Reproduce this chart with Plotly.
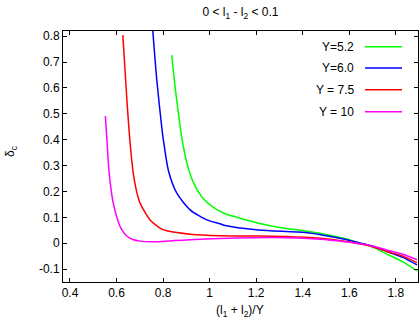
import plotly.graph_objects as go

W, H = 419, 327
ML, MR, MT, MB = 63, 1, 31, 45

series_names = ["Y=5.2", "Y=6.0", "Y = 7.5", "Y = 10"]
series_colors = ["#00ff00", "#0000ff", "#ff0000", "#ff00ff"]

x_y52 = [0.837, 0.852, 0.866, 0.880, 0.902, 0.930, 0.973, 1.031, 1.067, 1.102, 1.21, 1.30, 1.411, 1.50, 1.58, 1.619, 1.66, 1.70, 1.761, 1.83, 1.891]
y_y52 = [0.727, 0.60, 0.50, 0.41, 0.31, 0.235, 0.172, 0.13, 0.114, 0.104, 0.077, 0.061, 0.047, 0.034, 0.018, 0.008, -0.003, -0.015, -0.042, -0.072, -0.107]

x_y60 = [0.754, 0.773, 0.794, 0.801, 0.823, 0.859, 0.916, 0.988, 1.045, 1.067, 1.21, 1.411, 1.50, 1.58, 1.619, 1.66, 1.70, 1.761, 1.83, 1.891]
y_y60 = [0.84, 0.63, 0.45, 0.40, 0.28, 0.193, 0.129, 0.09, 0.075, 0.068, 0.051, 0.041, 0.029, 0.015, 0.007, -0.002, -0.012, -0.032, -0.055, -0.084]

x_y75 = [0.627, 0.644, 0.658, 0.672, 0.686, 0.701, 0.744, 0.794, 0.816, 0.916, 1.045, 1.188, 1.331, 1.475, 1.58, 1.618, 1.66, 1.70, 1.761, 1.83, 1.891]
y_y75 = [0.804, 0.56, 0.39, 0.27, 0.20, 0.155, 0.09, 0.054, 0.048, 0.035, 0.029, 0.028, 0.026, 0.019, 0.008, 0.002, -0.005, -0.014, -0.032, -0.05, -0.075]

x_y10 = [0.552, 0.558, 0.565, 0.572, 0.586, 0.605, 0.621, 0.645, 0.67, 0.701, 0.773, 0.85, 0.916, 1.045, 1.188, 1.332, 1.475, 1.58, 1.618, 1.66, 1.70, 1.761, 1.83, 1.891]
y_y10 = [0.491, 0.41, 0.309, 0.24, 0.154, 0.09, 0.054, 0.027, 0.014, 0.008, 0.006, 0.01, 0.013, 0.018, 0.021, 0.021, 0.015, 0.006, 0.002, -0.004, -0.011, -0.026, -0.043, -0.064]

xs = [x_y52, x_y60, x_y75, x_y10]
ys = [y_y52, y_y60, y_y75, y_y10]

x_tickvals = [0.4, 0.6, 0.8, 1.0, 1.2, 1.4, 1.6, 1.8]
x_ticktext = ["0.4", "0.6", "0.8", "1", "1.2", "1.4", "1.6", "1.8"]
y_tickvals = [-0.1, 0.0, 0.1, 0.2, 0.3, 0.4, 0.5, 0.6, 0.7, 0.8]
y_ticktext = ["-0.1", "0", "0.1", "0.2", "0.3", "0.4", "0.5", "0.6", "0.7", "0.8"]

FONT = "Liberation Sans, Arial, sans-serif"

fig = go.Figure()
for name, col, x, y in zip(series_names, series_colors, xs, ys):
    fig.add_trace(go.Scatter(x=x, y=y, mode="lines", name=name,
                             line=dict(color=col, width=1.5, shape="spline", smoothing=0.7),
                             showlegend=False, hoverinfo="skip"))

pw = W - ML - MR
ph = H - MT - MB
def px2paper(px, py):
    return (px - ML) / pw, (H - MB - py) / ph

annotations = []
shapes = []
leg_rows = [46.7, 68.0, 89.7, 111.7]
for name, col, ry in zip(series_names, series_colors, leg_rows):
    tx, ty = px2paper(356, ry)
    annotations.append(dict(x=tx, y=ty, xref="paper", yref="paper", text=name,
                            showarrow=False, xanchor="right", yanchor="middle",
                            font=dict(family=FONT, size=12, color="black")))
    x0, y0 = px2paper(365, ry)
    x1, _ = px2paper(402, ry)
    shapes.append(dict(type="line", xref="paper", yref="paper", x0=x0, x1=x1, y0=y0, y1=y0,
                       line=dict(color=col, width=1.5)))

ax, ay = px2paper(240, 311)
annotations.append(dict(x=ax, y=ay, xref="paper", yref="paper",
                        text="(l<sub>1</sub> + l<sub>2</sub>)/Y", showarrow=False,
                        xanchor="center", yanchor="middle",
                        font=dict(family=FONT, size=12, color="black")))
bx, by = px2paper(11, 152)
annotations.append(dict(x=bx, y=by, xref="paper", yref="paper",
                        text="δ<sub>c</sub>", showarrow=False, textangle=-90,
                        xanchor="center", yanchor="middle",
                        font=dict(family=FONT, size=12, color="black")))

fig.update_layout(
    width=W, height=H,
    margin=dict(l=ML, r=MR, t=MT, b=MB),
    paper_bgcolor="white", plot_bgcolor="white",
    font=dict(family=FONT, size=12, color="black"),
    title=dict(text="0 < l<sub>1</sub> - l<sub>2</sub> < 0.1", x=(ML + pw / 2) / W, xanchor="center",
               y=1 - 12 / H, yanchor="middle", yref="container",
               font=dict(family=FONT, size=12, color="black")),
    annotations=annotations, shapes=shapes,
    showlegend=False,
    hovermode=False,
)
fig.update_xaxes(range=[0.37, 1.895], tickvals=x_tickvals, ticktext=x_ticktext,
                 showgrid=False, zeroline=False, showline=True, linecolor="black", linewidth=1,
                 mirror="ticks", ticks="inside", ticklen=4, tickcolor="black",
                 tickfont=dict(family=FONT, size=12, color="black"))
fig.update_yaxes(range=[-0.15, 0.82], tickvals=y_tickvals, ticktext=y_ticktext,
                 showgrid=False, zeroline=False, showline=True, linecolor="black", linewidth=1,
                 mirror="ticks", ticks="inside", ticklen=4, tickcolor="black",
                 tickfont=dict(family=FONT, size=12, color="black"))

fig.write_html("out.html", config={"displayModeBar": False},
               post_script="document.body.style.margin='0px';document.body.style.padding='0px';")
